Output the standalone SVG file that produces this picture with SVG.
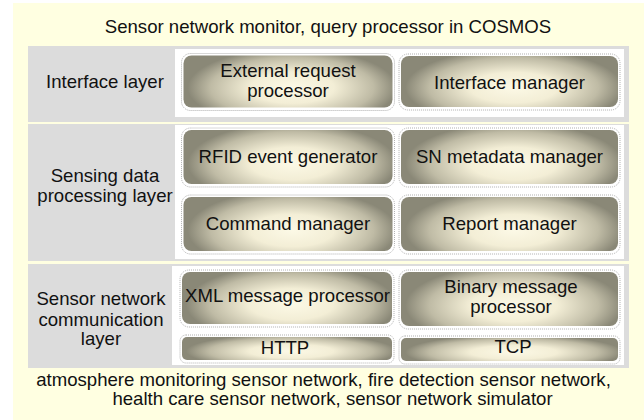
<svg xmlns="http://www.w3.org/2000/svg" width="644" height="420" viewBox="0 0 644 420">
<defs>
<radialGradient id="ng" cx="0.52" cy="0.62" r="0.5" gradientTransform="translate(0.52 0.62) scale(1 1.5) translate(-0.52 -0.62)">
<stop offset="0" stop-color="#FCF9E6"/>
<stop offset="0.4" stop-color="#F3EED6"/>
<stop offset="0.78" stop-color="#BFBBA5"/>
<stop offset="1" stop-color="#8A8877"/>
</radialGradient>
<style>
text{font-family:"Liberation Sans",Arial,sans-serif;font-size:18.6px;fill:#111;text-anchor:middle}
.layer{fill:#DCDCDC}
.panel{fill:#FFFFFF}
.box{fill:url(#ng)}
.dot{fill:none;stroke:#B0B0B0;stroke-width:1;stroke-dasharray:1 1}
</style>
</defs>
<rect x="13" y="3" width="631" height="417" fill="#FFFFE1"/>
<text x="328" y="33">Sensor network monitor, query processor in COSMOS</text>

<g id="layer-interface">
<rect class="layer" x="28" y="46" width="601" height="76"/>
<rect class="panel" x="175" y="49" width="449" height="68"/>
<text x="105" y="88">Interface layer</text>
</g>
<g id="layer-sensing">
<rect class="layer" x="28" y="124" width="601" height="137"/>
<rect class="panel" x="175" y="125" width="449" height="134"/>
<text x="105" y="182">Sensing data</text>
<text x="105" y="202">processing layer</text>
</g>
<g id="layer-communication">
<rect class="layer" x="28" y="264" width="601" height="104"/>
<rect class="panel" x="172" y="266" width="452" height="99"/>
<text x="101" y="305">Sensor network</text>
<text x="101" y="325.5">communication</text>
<text x="101" y="345">layer</text>
</g>

<g id="node-external-request-processor">
<rect class="dot" x="181.5" y="53.5" width="213" height="57" rx="9"/>
<rect class="box" x="183.5" y="55.5" width="209" height="52" rx="8"/>
<text x="288" y="77">External request</text>
<text x="288" y="97">processor</text>
</g>
<g id="node-interface-manager">
<rect class="dot" x="399" y="54" width="221" height="56" rx="9"/>
<rect class="box" x="401" y="56" width="217" height="51" rx="8"/>
<text x="509.5" y="89">Interface manager</text>
</g>
<g id="node-rfid-event-generator">
<rect class="dot" x="181.5" y="128" width="213" height="59" rx="9"/>
<rect class="box" x="183.5" y="130" width="209" height="54" rx="8"/>
<text x="288" y="162.5">RFID event generator</text>
</g>
<g id="node-sn-metadata-manager">
<rect class="dot" x="399" y="128" width="221" height="59" rx="9"/>
<rect class="box" x="401" y="130" width="217" height="54" rx="8"/>
<text x="509.5" y="163">SN metadata manager</text>
</g>
<g id="node-command-manager">
<rect class="dot" x="181.5" y="195" width="213" height="59" rx="9"/>
<rect class="box" x="183.5" y="197" width="209" height="54" rx="8"/>
<text x="288" y="230">Command manager</text>
</g>
<g id="node-report-manager">
<rect class="dot" x="399" y="195" width="221" height="59" rx="9"/>
<rect class="box" x="401" y="197" width="217" height="54" rx="8"/>
<text x="509.5" y="230">Report manager</text>
</g>
<g id="node-xml-message-processor">
<rect class="dot" x="180" y="270" width="214" height="57" rx="9"/>
<rect class="box" x="182" y="272" width="210" height="52" rx="8"/>
<text x="287.5" y="301.5">XML message processor</text>
</g>
<g id="node-binary-message-processor">
<rect class="dot" x="399" y="270" width="221" height="59" rx="9"/>
<rect class="box" x="401" y="272" width="217" height="54" rx="8"/>
<text x="511" y="293">Binary message</text>
<text x="511" y="313">processor</text>
</g>
<g id="node-http">
<rect class="dot" x="180" y="335" width="214" height="28" rx="6"/>
<rect class="box" x="182" y="337" width="210" height="23" rx="5"/>
<text x="285" y="354">HTTP</text>
</g>
<g id="node-tcp">
<rect class="dot" x="399" y="336" width="221" height="28" rx="6"/>
<rect class="box" x="401" y="338" width="217" height="23" rx="5"/>
<text x="513" y="352.5">TCP</text>
</g>

<g id="connectors"/>

<text x="323.5" y="386">atmosphere monitoring sensor network, fire detection sensor network,</text>
<text x="332.5" y="405">health care sensor network, sensor network simulator</text>
</svg>
